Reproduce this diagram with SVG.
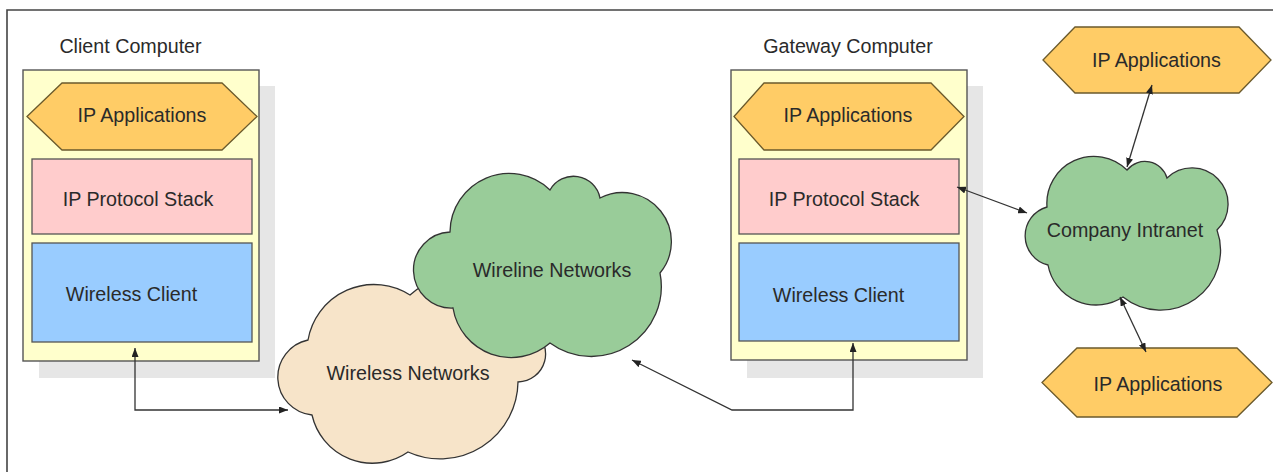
<svg xmlns="http://www.w3.org/2000/svg" width="1273" height="472" viewBox="0 0 1273 472">
<defs>
<style>
text{font-family:"Liberation Sans",Arial,sans-serif;font-size:19.7px;fill:#2a2a2a;text-anchor:middle}
.frame{fill:none;stroke:#444;stroke-width:1.6}
.shadow{fill:#e6e6e6}
.comp{fill:#ffffcc;stroke:#555;stroke-width:1.4}
.hex{fill:#ffcc66;stroke:#6b5a2c;stroke-width:1.3}
.stack{fill:#ffcccc;stroke:#555;stroke-width:1.3}
.wcl{fill:#99ccff;stroke:#555;stroke-width:1.3}
.green{fill:#99cc99;stroke:#333;stroke-width:1.3}
.beige{fill:#f7e4c9;stroke:#333;stroke-width:1.3}
.conn{fill:none;stroke:#333;stroke-width:1.3;marker-start:url(#ah);marker-end:url(#ah)}
</style>
<marker id="ah" viewBox="0 0 9 7" refX="9" refY="3.5" markerWidth="9" markerHeight="7" markerUnits="userSpaceOnUse" orient="auto-start-reverse">
<path d="M0,0 L9,3.5 L0,7 Z" fill="#222"/>
</marker>
</defs>
<rect width="1273" height="472" fill="#fff"/>
<path class="frame" d="M7,472 L7,10 L1273,10"/>

<g id="client-computer">
<rect class="shadow" x="39" y="86" width="236" height="292"/>
<rect class="comp" x="23" y="70" width="236" height="291"/>
<text x="130.5" y="53">Client Computer</text>
</g>
<g id="client-ip-applications">
<polygon class="hex" points="27,116.5 62,83 222,83 257,116.5 222,150 62,150"/>
<text x="142" y="122">IP Applications</text>
</g>
<g id="client-ip-stack">
<rect class="stack" x="32" y="159" width="220" height="75"/>
<text x="138" y="206">IP Protocol Stack</text>
</g>
<g id="client-wireless-client">
<rect class="wcl" x="32" y="243" width="220" height="99"/>
<text x="131.5" y="301">Wireless Client</text>
</g>

<g id="gateway-computer">
<rect class="shadow" x="747" y="86" width="236" height="292"/>
<rect class="comp" x="731" y="70" width="236" height="290"/>
<text x="848" y="53">Gateway Computer</text>
</g>
<g id="gateway-ip-applications">
<polygon class="hex" points="734,116.5 764,83 931,83 964,116.5 931,150 764,150"/>
<text x="848" y="122">IP Applications</text>
</g>
<g id="gateway-ip-stack">
<rect class="stack" x="739" y="159" width="220" height="75"/>
<text x="844" y="206">IP Protocol Stack</text>
</g>
<g id="gateway-wireless-client">
<rect class="wcl" x="739" y="243" width="220" height="98"/>
<text x="838.5" y="302">Wireless Client</text>
</g>

<g id="wireless-networks">
<path class="beige" d="M410,295 A75,75 0 0 1 532,330 A28,28 0 0 1 518,382 A78,78 0 0 1 408,452 A62,62 0 0 1 312,415 A38,38 0 0 1 308,340 A67,67 0 0 1 410,295 Z"/>
<text x="408" y="380">Wireless Networks</text>
</g>
<g id="wireline-networks">
<path class="green" d="M450,232 A59,59 0 0 1 550,190 A27,27 0 0 1 600,198 A49,49 0 0 1 660,273 A70,70 0 0 1 550,343 A59,59 0 0 1 453,308 A38,38 0 0 1 450,232 Z"/>
<text x="552" y="277">Wireline Networks</text>
</g>
<g id="company-intranet">
<path class="green" d="M1047,207 A47,47 0 0 1 1127,170 A23,23 0 0 1 1167,178 A36,36 0 0 1 1217,230 A60,60 0 0 1 1123,297 A49,49 0 0 1 1048,265 A30,30 0 0 1 1047,207 Z"/>
<text x="1125" y="237">Company Intranet</text>
</g>
<g id="ip-applications-top">
<polygon class="hex" points="1043,60 1075,27 1239,27 1271,60 1239,93 1075,93"/>
<text x="1156.5" y="67">IP Applications</text>
</g>
<g id="ip-applications-bottom">
<polygon class="hex" points="1042,382.5 1077,348 1237,348 1272,382.5 1237,417 1077,417"/>
<text x="1158" y="391">IP Applications</text>
</g>

<g id="connectors">
<path class="conn" d="M135,348 L135,410 L288,410"/>
<path class="conn" d="M853,343 L853,410 L732,410 L632,360"/>
<path class="conn" d="M957,187 L1027,213"/>
<path class="conn" d="M1152,85 L1127,167"/>
<path class="conn" d="M1120,297 L1146,352"/>
</g>
</svg>
